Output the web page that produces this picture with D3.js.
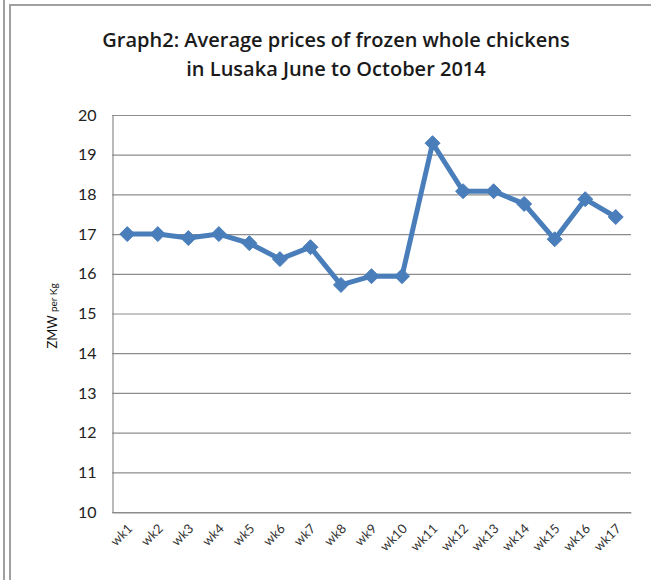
<!DOCTYPE html>
<html>
<head>
<meta charset="utf-8">
<script src="https://cdn.jsdelivr.net/npm/d3@7"></script>
<style>
  body { margin: 0; background: #fff; }
  svg { display: block; font-family: Lato, "Open Sans", sans-serif; }
</style>
</head>
<body>
<svg id="svg" width="651" height="580"></svg>
<script>
(function() {
    'use strict';

    // chart data
    var weeks = ['wk1', 'wk2', 'wk3', 'wk4', 'wk5', 'wk6', 'wk7', 'wk8', 'wk9',
                 'wk10', 'wk11', 'wk12', 'wk13', 'wk14', 'wk15', 'wk16', 'wk17'];
    var prices = [17.0, 17.0, 16.9, 17.0, 16.77, 16.37, 16.67, 15.72, 15.94,
                  15.94, 19.29, 18.08, 18.08, 17.76, 16.87, 17.88, 17.43];
    var yTicks = [10, 11, 12, 13, 14, 15, 16, 17, 18, 19, 20];
    var titleLines = ['Graph2: Average prices of frozen whole chickens',
                      'in Lusaka June to October 2014'];

    var svg = d3.select('#svg');

    // outer frame lines
    svg.append('line')
        .attr('x1', 4).attr('y1', 0).attr('x2', 4).attr('y2', 580)
        .attr('stroke', '#a0a0a0').attr('stroke-width', 2);
    svg.append('path')
        .attr('d', 'M10,580V5H651')
        .attr('fill', 'none')
        .attr('stroke', '#a0a0a0').attr('stroke-width', 2);

    var plot = { left: 112, right: 631, top: 115, bottom: 512 };

    var x = d3.scaleBand()
        .domain(weeks)
        .range([plot.left, plot.right]);

    var y = d3.scaleLinear()
        .domain([10, 20])
        .range([plot.bottom, plot.top]);

    // title
    svg.append('text')
        .attr('text-anchor', 'middle')
        .attr('font-family', '"Open Sans", sans-serif')
        .attr('font-size', 20)
        .attr('font-weight', 600)
        .attr('fill', '#1a1a1a')
        .selectAll('tspan')
        .data(titleLines)
        .enter()
        .append('tspan')
        .attr('x', 336)
        .attr('y', function (d, i) { return 47 + i * 29; })
        .text(function (d) { return d; });

    // horizontal gridlines
    svg.append('g')
        .selectAll('line')
        .data(yTicks)
        .enter()
        .append('line')
        .attr('x1', plot.left)
        .attr('x2', plot.right)
        .attr('y1', function (d) { return y(d) + 0.5; })
        .attr('y2', function (d) { return y(d) + 0.5; })
        .attr('stroke', '#8c8c8c')
        .attr('stroke-width', 1.2);

    // y axis
    var yAxis = svg.append('g')
        .attr('transform', 'translate(' + (plot.left + 0.5) + ',0)')
        .call(d3.axisLeft(y).tickValues(yTicks).tickSize(0).tickPadding(16));
    yAxis.select('.domain').attr('stroke', '#8c8c8c').attr('stroke-width', 1.2);
    yAxis.selectAll('text')
        .attr('font-family', 'Lato, sans-serif')
        .attr('font-size', 16)
        .attr('fill', '#222');

    // x axis
    var xAxis = svg.append('g')
        .attr('transform', 'translate(0,' + (plot.bottom + 0.5) + ')')
        .call(d3.axisBottom(x).tickSize(0).tickPadding(0));
    xAxis.select('.domain').attr('stroke', '#8c8c8c').attr('stroke-width', 1.2);
    xAxis.selectAll('text')
        .attr('font-family', 'Lato, sans-serif')
        .attr('font-size', 13)
        .attr('fill', '#333')
        .attr('text-anchor', 'end')
        .attr('dy', 0)
        .attr('transform', function () {
            return 'translate(6,17) rotate(-45)';
        });

    // y axis title
    var yTitle = svg.append('text')
        .attr('transform', 'translate(57,316) rotate(-90)')
        .attr('text-anchor', 'middle')
        .attr('fill', '#111');
    yTitle.append('tspan').attr('font-size', 13).text('ZMW ');
    yTitle.append('tspan').attr('font-size', 10).text('per Kg');

    // line series
    var line = d3.line()
        .x(function (d, i) { return x(weeks[i]) + x.bandwidth() / 2; })
        .y(function (d) { return y(d); });

    svg.append('path')
        .datum(prices)
        .attr('d', line)
        .attr('fill', 'none')
        .attr('stroke', '#4a7ebb')
        .attr('stroke-width', 5)
        .attr('stroke-linejoin', 'round');

    // diamond markers
    svg.append('g')
        .selectAll('path')
        .data(prices)
        .enter()
        .append('path')
        .attr('d', 'M0,-7.5L7.5,0L0,7.5L-7.5,0Z')
        .attr('transform', function (d, i) {
            return 'translate(' + [x(weeks[i]) + x.bandwidth() / 2, y(d)] + ')';
        })
        .attr('fill', '#4a7ebb')
        .attr('stroke', '#4a7ebb')
        .attr('stroke-width', 1);
})();
</script>
</body>
</html>
